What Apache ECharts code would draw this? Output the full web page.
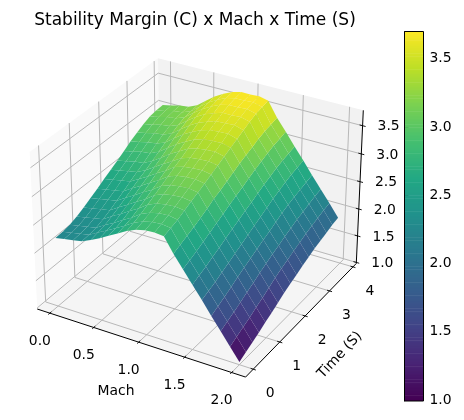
<!DOCTYPE html>
<html><head><meta charset="utf-8">
<style>html,body{margin:0;padding:0;background:#fff}#c{width:464px;height:420px}</style>
<script src="https://cdn.jsdelivr.net/npm/echarts@6/dist/echarts.min.js"></script>
</head><body><div id="c"></div>
<script>
const machValues = [0,0.1,0.2,0.3,0.4,0.5,0.6,0.7,0.8,0.9,1.0,1.1,1.2,1.3,1.4,1.5,1.6,1.7,1.8,1.9,2.0];
const timeValues = [0,0.24,0.48,0.72,0.96,1.2,1.44,1.68,1.92,2.16,2.4,2.64,2.88,3.12,3.36,3.6,3.84];
const marginT00 = [2.22,2.25,2.28,2.31,2.38,2.46,2.55,2.64,2.73,2.80,2.84,2.85,2.83,2.58,2.36,2.14,1.92,1.69,1.47,1.25,1.03];
const marginT01 = [2.23,2.26,2.29,2.32,2.41,2.49,2.58,2.67,2.77,2.84,2.88,2.89,2.87,2.63,2.41,2.19,1.97,1.75,1.53,1.31,1.09];
const marginT02 = [2.25,2.28,2.31,2.34,2.44,2.52,2.62,2.71,2.82,2.89,2.93,2.94,2.91,2.68,2.46,2.24,2.02,1.81,1.59,1.37,1.15];
const marginT03 = [2.30,2.33,2.36,2.39,2.49,2.58,2.68,2.77,2.88,2.95,2.98,2.99,2.97,2.73,2.52,2.30,2.08,1.87,1.65,1.43,1.21];
const marginT04 = [2.36,2.39,2.42,2.45,2.55,2.64,2.74,2.83,2.95,3.01,3.04,3.05,3.03,2.79,2.58,2.36,2.14,1.94,1.72,1.50,1.28];
const marginT05 = [2.43,2.46,2.49,2.52,2.62,2.71,2.81,2.90,3.01,3.07,3.10,3.11,3.08,2.85,2.64,2.42,2.20,2.00,1.78,1.56,1.34];
const marginT06 = [2.50,2.53,2.56,2.59,2.69,2.78,2.88,2.97,3.08,3.14,3.16,3.17,3.14,2.92,2.70,2.48,2.26,2.06,1.85,1.63,1.41];
const marginT07 = [2.58,2.61,2.64,2.67,2.76,2.85,2.95,3.04,3.15,3.20,3.22,3.23,3.20,2.97,2.76,2.54,2.32,2.12,1.91,1.70,1.48];
const marginT08 = [2.65,2.68,2.71,2.74,2.82,2.92,3.02,3.11,3.21,3.26,3.28,3.29,3.26,3.03,2.82,2.60,2.38,2.18,1.97,1.76,1.54];
const marginT09 = [2.72,2.75,2.79,2.81,2.89,2.99,3.10,3.19,3.28,3.33,3.35,3.36,3.32,3.09,2.87,2.65,2.44,2.23,2.02,1.81,1.59];
const marginT10 = [2.80,2.83,2.87,2.89,2.96,3.07,3.18,3.27,3.35,3.40,3.41,3.42,3.38,3.15,2.93,2.71,2.50,2.29,2.08,1.87,1.65];
const marginT11 = [2.88,2.91,2.95,2.97,3.03,3.15,3.26,3.35,3.42,3.47,3.48,3.49,3.44,3.20,2.99,2.77,2.56,2.35,2.13,1.92,1.70];
const marginT12 = [2.95,2.98,3.02,3.04,3.10,3.22,3.33,3.42,3.48,3.53,3.54,3.55,3.50,3.25,3.04,2.82,2.61,2.40,2.18,1.97,1.75];
const marginT13 = [3.01,3.04,3.08,3.10,3.16,3.28,3.39,3.48,3.54,3.59,3.59,3.60,3.56,3.30,3.09,2.87,2.66,2.44,2.22,2.01,1.79];
const marginT14 = [3.06,3.09,3.13,3.15,3.21,3.33,3.44,3.53,3.60,3.64,3.64,3.65,3.61,3.34,3.13,2.91,2.70,2.47,2.26,2.05,1.83];
const marginT15 = [3.08,3.11,3.15,3.17,3.23,3.35,3.47,3.56,3.63,3.67,3.67,3.68,3.64,3.37,3.16,2.94,2.73,2.51,2.30,2.09,1.87];
const marginT16 = [3.09,3.12,3.16,3.18,3.25,3.37,3.49,3.58,3.65,3.69,3.69,3.70,3.66,3.40,3.19,2.97,2.76,2.54,2.33,2.12,1.90];
const marginRows = [marginT00,marginT01,marginT02,marginT03,marginT04,marginT05,marginT06,marginT07,marginT08,marginT09,marginT10,marginT11,marginT12,marginT13,marginT14,marginT15,marginT16];
const machTicks = [0,0.5,1.0,1.5,2.0];
const timeTicks = [0,1,2,3,4];
const marginTicks = [1.0,1.5,2.0,2.5,3.0,3.5];
const colorbarTicks = [1.0,1.5,2.0,2.5,3.0,3.5];
const viridis = ['#440154','#482475','#414487','#355f8d','#2a788e','#21918c','#22a884','#44bf70','#7ad151','#bddf26','#fde725'];
const titleText = 'Stability Margin (C) x Mach x Time (S)';

const FONT = '"DejaVu Sans"';
const TICK = 13.9;
const colorMin = 1.0, colorMax = 3.7;
const xL = [-0.1458,2.1458], yL = [-0.282,4.145], zL = [0.98,3.77];
const SC = 2005, X0 = 199.7, Y0 = 210;
const BX = 1.1905, BY = 1.1905, BZ = 0.8929;
const cE = Math.cos(Math.PI/6), sE = 0.5, cA = 0.5, sA = -Math.sqrt(3)/2;
const n3 = [cE*cA, cE*sA, sE], u3 = [-sA, cA, 0], v3 = [-sE*cA, -sE*sA, cE];
function cam(m,t,z){
  const a=((m-xL[0])/(xL[1]-xL[0])-0.5)*BX, b=((t-yL[0])/(yL[1]-yL[0])-0.5)*BY, c=((z-zL[0])/(zL[1]-zL[0])-0.5)*BZ;
  const dot=q=>q[0]*a+q[1]*b+q[2]*c;
  const w=10-dot(n3);
  return [X0+SC*dot(u3)/w, Y0-SC*dot(v3)/w, w];
}
function colorAt(v){
  const f=Math.max(0,Math.min(1,(v-colorMin)/(colorMax-colorMin)))*(viridis.length-1);
  const i=Math.min(viridis.length-2,Math.floor(f)), k=f-i;
  const h=s=>[1,3,5].map(p=>parseInt(s.substr(p,2),16));
  const A=h(viridis[i]),B=h(viridis[i+1]);
  return 'rgb('+A.map((x,n)=>Math.round(x+(B[n]-x)*k)).join(',')+')';
}
const cells=[];
for(let j=0;j<timeValues.length-1;j++)for(let i=0;i<machValues.length-1;i++){
  const cs=[[i,j],[i+1,j],[i+1,j+1],[i,j+1]];
  const depth=cs.reduce((s,[p,q])=>s+cam(machValues[p],timeValues[q],marginRows[q][p])[2],0)/4;
  cells.push([i,j,depth]);
}
cells.sort((a,b)=>b[2]-a[2]);

function line(api,P,Q,color,w){
  const A=cam(...P),B=cam(...Q),a=api.coord([A[0],A[1]]),b=api.coord([B[0],B[1]]);
  return {type:'line',shape:{x1:a[0],y1:a[1],x2:b[0],y2:b[1]},style:{stroke:color,lineWidth:w}};
}
function poly(api,ps,fill){
  return {type:'polygon',shape:{points:ps.map(p=>{const c=cam(...p);return api.coord([c[0],c[1]]);})},style:{fill:fill,stroke:null}};
}
function label(api,p,dx,dy,text,align){
  const c=cam(...p),a=api.coord([c[0],c[1]]);
  return {type:'text',x:a[0]+dx,y:a[1]+dy,style:{text:text,fill:'#000',font:TICK+'px '+FONT,align:align||'center',verticalAlign:'middle'}};
}
function renderFrame(p,api){
  const ch=[],[x0,x1]=xL,[y0,y1]=yL,[z0,z1]=zL,g='#b8b8b8',lw=1;
  ch.push(poly(api,[[x0,y0,z0],[x0,y1,z0],[x0,y1,z1],[x0,y0,z1]],'#f9f9f9'));
  ch.push(poly(api,[[x0,y1,z0],[x1,y1,z0],[x1,y1,z1],[x0,y1,z1]],'#f2f2f2'));
  ch.push(poly(api,[[x0,y0,z0],[x1,y0,z0],[x1,y1,z0],[x0,y1,z0]],'#f5f5f5'));
  machTicks.forEach(m=>{ch.push(line(api,[m,y0,z0],[m,y1,z0],g,lw));ch.push(line(api,[m,y1,z0],[m,y1,z1],g,lw));});
  timeTicks.forEach(t=>{ch.push(line(api,[x1,t,z0],[x0,t,z0],g,lw));ch.push(line(api,[x0,t,z0],[x0,t,z1],g,lw));});
  marginTicks.forEach(z=>{ch.push(line(api,[x0,y0,z],[x0,y1,z],g,lw));ch.push(line(api,[x0,y1,z],[x1,y1,z],g,lw));});
  return {type:'group',children:ch};
}
function renderCell(p,api){
  const i=api.value(0),j=api.value(1);
  const cs=[[i,j],[i+1,j],[i+1,j+1],[i,j+1]];
  const pts=cs.map(([a,b])=>[machValues[a],timeValues[b],marginRows[b][a]]);
  const mean=pts.reduce((s,q)=>s+q[2],0)/4;
  return poly(api,pts,colorAt(mean));
}
function renderAxes(p,api){
  const ch=[],[x0,x1]=xL,[y0,y1]=yL,[z0,z1]=zL,k='#000',lw=1;
  const xs=x1-x0,ys=y1-y0;
  ch.push(line(api,[x0,y0,z0],[x1,y0,z0],k,lw));
  ch.push(line(api,[x1,y0,z0],[x1,y1,z0],k,lw));
  ch.push(line(api,[x1,y1,z0],[x1,y1,z1],k,lw));
  machTicks.forEach(m=>{
    ch.push(line(api,[m,y0+0.012*ys,z0],[m,y0-0.012*ys,z0],k,0.9));
    ch.push(label(api,[m,y0,z0],-10,28,m.toFixed(1)));
  });
  timeTicks.forEach(t=>{
    ch.push(line(api,[x1-0.012*xs,t,z0],[x1+0.012*xs,t,z0],k,0.9));
    ch.push(label(api,[x1,t,z0],17,24.5,String(t)));
  });
  marginTicks.forEach(z=>{
    ch.push(line(api,[x1-0.014*xs,y1,z],[x1+0.014*xs,y1,z],k,0.9));
    ch.push(label(api,[x1,y1,z],15,1,z.toFixed(1),'left'));
  });
  const a=api.coord([116,391]),b=api.coord([340,355]);
  ch.push({type:'text',x:a[0],y:a[1],style:{text:'Mach',fill:'#000',font:TICK+'px '+FONT,align:'center',verticalAlign:'middle'}});
  ch.push({type:'text',x:b[0],y:b[1],rotation:0.82,style:{text:'Time (S)',fill:'#000',font:TICK+'px '+FONT,align:'center',verticalAlign:'middle'}});
  return {type:'group',children:ch};
}
const levels=[];for(let i=0;i<256;i++)levels.push(colorMin-0.007+(colorMax-colorMin+0.007)*i/255);
function renderBar(p,api){
  const v=api.value(1),step=(colorMax-colorMin+0.007)/255;
  const a=api.coord([0,v+step]),b=api.coord([1,v]);
  return {type:'rect',shape:{x:a[0],y:a[1],width:b[0]-a[0],height:b[1]-a[1]+0.6},style:{fill:colorAt(v),stroke:null}};
}
const chart=echarts.init(document.getElementById('c'),null,{renderer:'canvas'});
chart.setOption({
  animation:false,
  backgroundColor:'#fff',
  title:{text:titleText,left:190,top:7,textAlign:'center',textStyle:{fontFamily:FONT,fontWeight:'normal',fontSize:17,color:'#000'}},
  grid:[
    {left:0,top:0,width:464,height:420,show:false},
    {left:404.5,top:31.5,width:19,height:369.5,show:true,borderColor:'#000',borderWidth:1,backgroundColor:'transparent',z:5}
  ],
  xAxis:[
    {gridIndex:0,type:'value',min:0,max:464,show:false},
    {gridIndex:1,type:'value',min:0,max:1,show:false}
  ],
  yAxis:[
    {gridIndex:0,type:'value',min:0,max:420,inverse:true,show:false},
    {gridIndex:1,type:'value',min:colorMin-0.007,max:colorMax,position:'right',
     splitLine:{show:false},
     axisLine:{show:true,lineStyle:{color:'#000',width:1}},
     axisTick:{show:true,length:4,customValues:colorbarTicks,lineStyle:{color:'#000',width:1}},
     axisLabel:{show:true,customValues:colorbarTicks,margin:6,color:'#000',fontFamily:FONT,fontSize:TICK,formatter:v=>Number(v).toFixed(1)}}
  ],
  series:[
    {type:'custom',xAxisIndex:0,yAxisIndex:0,silent:true,clip:false,z:1,data:[[0,0]],renderItem:renderFrame},
    {type:'custom',xAxisIndex:0,yAxisIndex:0,silent:true,clip:false,z:2,data:cells.map(c=>[c[0],c[1]]),renderItem:renderCell},
    {type:'custom',xAxisIndex:0,yAxisIndex:0,silent:true,clip:false,z:3,data:[[0,0]],renderItem:renderAxes},
    {type:'custom',xAxisIndex:1,yAxisIndex:1,silent:true,clip:true,z:2,data:levels.map(v=>[0,v]),encode:{x:0,y:1},renderItem:renderBar}
  ]
});
</script></body></html>
